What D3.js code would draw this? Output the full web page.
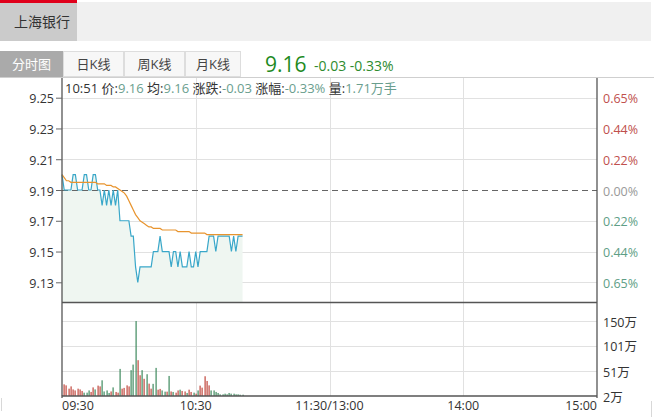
<!DOCTYPE html>
<html><head><meta charset="utf-8">
<script src="https://cdn.jsdelivr.net/npm/d3@7"></script>
<style>
html,body{margin:0;padding:0;background:#fff;}
svg{display:block;font-family:"Open Sans","Noto Sans CJK SC",sans-serif;}
</style></head>
<body><svg id="c" width="654" height="417"></svg>
<script>
// ---------- data ----------
const stockName = "上海银行";
const tabs = ["分时图", "日K线", "周K线", "月K线"];
const lastPrice = "9.16", lastChange = "-0.03", lastPct = "-0.33%";
const prevClose = 9.19;
const timeLabels = ["09:30", "10:30", "11:30/13:00", "14:00", "15:00"];
const timeMinutes = [0, 60, 120, 180, 240];
const priceTicks = [9.25, 9.23, 9.21, 9.19, 9.17, 9.15, 9.13];
const pctLabels = ["0.65%", "0.44%", "0.22%", "0.00%", "0.22%", "0.44%", "0.65%"];
const volTicks = [150, 101, 51, 2];
const volTickLabels = ["150万", "101万", "51万", "2万"];
// minute prices 09:30 .. 10:51
const prices = [9.20,9.19,9.19,9.19,9.19,9.20,9.20,9.19,9.19,9.19,
  9.20,9.20,9.19,9.19,9.20,9.20,9.19,9.19,9.18,9.19,
  9.18,9.19,9.18,9.19,9.18,9.19,9.17,9.17,9.17,9.17,
  9.17,9.16,9.16,9.14,9.13,9.14,9.14,9.14,9.14,9.14,
  9.14,9.15,9.15,9.15,9.16,9.15,9.15,9.15,9.15,9.14,
  9.15,9.15,9.14,9.15,9.14,9.14,9.14,9.15,9.14,9.14,
  9.15,9.14,9.15,9.15,9.15,9.15,9.16,9.16,9.16,9.15,
  9.16,9.16,9.16,9.16,9.16,9.16,9.15,9.16,9.15,9.16,
  9.16,9.16];
const avgPrices = [9.200,9.198,9.196,9.196,9.195,9.195,9.195,9.195,9.195,9.195,
  9.195,9.195,9.195,9.195,9.195,9.195,9.194,9.194,9.194,9.194,
  9.193,9.193,9.193,9.192,9.192,9.191,9.190,9.189,9.188,9.186,
  9.183,9.180,9.177,9.174,9.172,9.170,9.169,9.168,9.167,9.166,
  9.166,9.165,9.165,9.165,9.165,9.164,9.164,9.164,9.164,9.164,
  9.164,9.164,9.163,9.163,9.163,9.163,9.163,9.163,9.162,9.162,
  9.162,9.162,9.162,9.162,9.162,9.161,9.161,9.161,9.161,9.161,
  9.161,9.161,9.161,9.161,9.161,9.161,9.161,9.161,9.161,9.161,
  9.161,9.161];
// minute volume (万), and direction (1 up/red, -1 down/green)
const volumes = [3,25,23,16.5,21,15,13,16.5,15,12,
  8.6,8.6,13,10,19,15,22.5,21,33,11,
  13,8,11,19,10,8.6,55.5,16.5,18,23,
  21,53,64,150,72.7,43,53,36,45,26.4,
  16.5,26,57.5,14.5,16,13,10.6,10.6,41.6,11,
  10,8.6,13,14.5,12,11,8,14.5,10,8.6,
  6.6,13,22.5,18.5,41,31.7,23,13,13,10,
  8,5.3,5.3,6.6,5.3,8,6.6,6.6,5.3,5.3,
  4.6,4.6];
const volDir = [1,1,1,1,1,1,1,1,1,1,
  -1,-1,-1,1,1,-1,1,1,-1,-1,
  -1,-1,1,-1,1,1,-1,1,1,1,
  1,-1,-1,-1,1,1,-1,1,-1,1,
  1,-1,-1,1,1,-1,-1,1,-1,1,
  -1,1,1,-1,1,1,-1,1,1,-1,
  1,-1,1,1,1,1,1,-1,-1,-1,
  -1,-1,-1,-1,-1,-1,-1,-1,-1,-1,
  -1,-1];
const infoParts = [["10:51 价:", "9.16"], [" 均:", "9.16"], [" 涨跌:", "-0.03"], [" 涨幅:", "-0.33%"], [" 量:", "1.71万手"]];

// ---------- layout ----------
const L = 62, R = 597, pTop = 78, pBot = 302, vTop = 302, vBot = 396;
const svg = d3.select("#c");
const x = d3.scaleLinear().domain([0, 240]).range([L, R]);
const y = d3.scaleLinear().domain([9.1172, 9.2628]).range([pBot, pTop]);
const yv = d3.scaleLinear().domain([2, 187.6]).range([vBot, vTop]);

// header
svg.append("rect").attr("x", 0).attr("y", 2).attr("width", 651).attr("height", 39).attr("fill", "#f0f0f0");
svg.append("rect").attr("x", 0).attr("y", 2).attr("width", 77).attr("height", 39).attr("fill", "#cbcbcb");
svg.append("rect").attr("x", 0).attr("y", 0).attr("width", 77).attr("height", 3).attr("fill", "#e0001b");
svg.append("text").attr("x", 14).attr("y", 27).attr("font-size", 14).attr("fill", "#333").text(stockName);

// tabs
const tabX = [0, 63, 124, 185, 241];
tabs.forEach((t, i) => {
  const sel = i === 0;
  svg.append("rect").attr("x", tabX[i] + 0.5).attr("y", 51.5).attr("width", tabX[i + 1] - tabX[i] - 1).attr("height", 25)
    .attr("fill", sel ? "#aaaaaa" : "#f7f7f7").attr("stroke", sel ? "#aaaaaa" : "#dddddd");
  svg.append("text").attr("x", (tabX[i] + tabX[i + 1]) / 2).attr("y", 68.5).attr("text-anchor", "middle")
    .attr("font-size", 13).attr("fill", sel ? "#fff" : "#444").text(t);
});
svg.append("text").attr("x", 265).attr("y", 72).attr("font-size", 21).attr("fill", "#1e8a1e").text(lastPrice);
svg.append("text").attr("x", 314).attr("y", 71).attr("font-size", 14).attr("fill", "#2e8b2e").text(lastChange + " " + lastPct);

// top line
svg.append("line").attr("x1", 0).attr("x2", 654).attr("y1", 77.5).attr("y2", 77.5).attr("stroke", "#cfcfcf");
// side faint borders
svg.append("line").attr("x1", 1.5).attr("x2", 1.5).attr("y1", 398).attr("y2", 411).attr("stroke", "#d8d8d8");
svg.append("line").attr("x1", 651.5).attr("x2", 651.5).attr("y1", 401).attr("y2", 417).attr("stroke", "#d8d8d8");

// grid
const g = svg.append("g");
g.selectAll(".hg").data(priceTicks.filter(v => v !== prevClose)).join("line")
  .attr("x1", L).attr("x2", R).attr("y1", d => Math.round(y(d)) + 0.5).attr("y2", d => Math.round(y(d)) + 0.5)
  .attr("stroke", "#e1e1e1");
g.selectAll(".vg").data(volTicks.slice(0, 3)).join("line")
  .attr("x1", L).attr("x2", R).attr("y1", d => Math.round(yv(d)) + 0.5).attr("y2", d => Math.round(yv(d)) + 0.5)
  .attr("stroke", "#e1e1e1");
g.selectAll(".tg").data(timeMinutes.slice(1, 4)).join("line")
  .attr("x1", d => Math.round(x(d)) + 0.5).attr("x2", d => Math.round(x(d)) + 0.5)
  .attr("y1", pTop).attr("y2", vBot).attr("stroke", "#e1e1e1");

// area + lines
const area = d3.area().x((d, i) => x(i)).y0(pBot).y1(d => y(d));
svg.append("path").datum(prices).attr("d", area).attr("fill", "#eff6f1");
// prev close dashed
svg.append("line").attr("x1", L).attr("x2", R).attr("y1", Math.round(y(prevClose)) + 0.5).attr("y2", Math.round(y(prevClose)) + 0.5)
  .attr("stroke", "#666").attr("stroke-dasharray", "6,4");
const line = d3.line().x((d, i) => x(i)).y(d => y(d));
svg.append("path").datum(prices).attr("d", line).attr("fill", "none").attr("stroke", "#39a7c9").attr("stroke-width", 1.2);
svg.append("path").datum(avgPrices).attr("d", line).attr("fill", "none").attr("stroke", "#e8942e").attr("stroke-width", 1.2);

// volume bars
svg.selectAll(".vb").data(volumes).join("rect")
  .attr("x", (d, i) => Math.round(x(i)) - 0.5).attr("width", 1.2)
  .attr("y", d => yv(d)).attr("height", d => vBot - yv(d))
  .attr("fill", (d, i) => volDir[i] > 0 ? "#c0473d" : "#3f8a5e");

// axes frame
const ax = svg.append("g").attr("stroke", "#555").attr("stroke-width", 1.3);
ax.append("line").attr("x1", L).attr("x2", L).attr("y1", pTop).attr("y2", vBot + 2);
ax.append("line").attr("x1", R).attr("x2", R).attr("y1", pTop).attr("y2", vBot + 2);
ax.append("line").attr("x1", L).attr("x2", R).attr("y1", pBot + 0.5).attr("y2", pBot + 0.5);
ax.append("line").attr("x1", L).attr("x2", R).attr("y1", vBot).attr("y2", vBot);

// left price axis
const leftAxis = d3.axisLeft(y).tickValues(priceTicks).tickFormat(d3.format(".2f")).tickSize(6).tickPadding(2);
const la = svg.append("g").attr("transform", `translate(${L},0)`).call(leftAxis);
la.select(".domain").remove();
la.selectAll("line").attr("stroke", "#666");
la.selectAll("text").attr("font-size", 12.5).attr("fill", "#333").attr("font-family", "Open Sans").attr("dy", "0.4em");

// right pct axis
svg.selectAll(".pct").data(priceTicks).join("text")
  .attr("x", R + 6).attr("y", d => y(d)).attr("dy", "0.45em").attr("font-size", 12.5)
  .attr("fill", d => d > prevClose ? "#c0504d" : (d < prevClose ? "#5e9e86" : "#999"))
  .text((d, i) => pctLabels[i]);

// volume axis
svg.selectAll(".vt").data(volTicks).join("text")
  .attr("x", R + 6).attr("y", d => yv(d)).attr("dy", "0.45em").attr("font-size", 12.5).attr("fill", "#333")
  .text((d, i) => volTickLabels[i]);

// time axis
svg.selectAll(".tt").data(timeMinutes).join("text")
  .attr("x", d => x(d)).attr("y", 410).attr("font-size", 12.5).attr("fill", "#333")
  .attr("text-anchor", (d, i) => i === 0 ? "start" : (i === timeMinutes.length - 1 ? "end" : "middle"))
  .text((d, i) => timeLabels[i]);

// info line
const info = svg.append("text").attr("x", 65).attr("y", 92.5).attr("font-size", 13);
infoParts.forEach(p => {
  info.append("tspan").attr("fill", "#333").text(p[0]);
  info.append("tspan").attr("fill", "#6a9e8e").text(p[1]);
});
</script></body></html>
